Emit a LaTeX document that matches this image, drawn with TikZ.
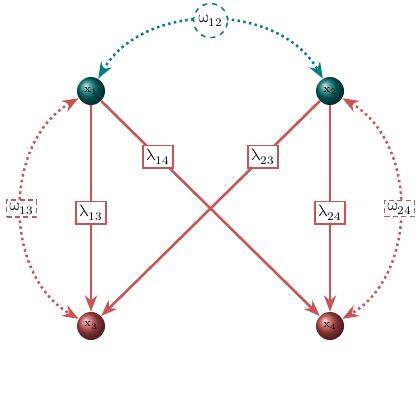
\documentclass[tikz,border=0pt]{standalone}
\usepackage{tikz}
\usepackage{unicode-math}
\usetikzlibrary{arrows.meta,shadings}

\definecolor{lamred}{RGB}{205,82,82}
\definecolor{balltop}{RGB}{0,110,110}
\definecolor{ballbot}{RGB}{185,70,70}
\definecolor{omteal}{RGB}{0,128,128}

\begin{document}
\begin{tikzpicture}[>=Stealth,x=0.6pt,y=-0.6pt]
  \tikzstyle{bola}=[circle,inner sep=0pt,minimum size=16.8pt,font=\scriptsize]
  \tikzstyle{ligacao}=[draw=lamred,line width=1.5pt,->]
  \tikzstyle{lam}=[draw=lamred,fill=white,line width=0.9pt,inner sep=2pt]
  \tikzstyle{elo}=[line width=1.5pt,dotted,<->]
  \tikzstyle{om}=[fill=white,text=black,line width=0.9pt,inner sep=1.5pt]
  \useasboundingbox (0,0) rectangle (420,420);
  \node[bola,ball color=balltop] (x1) at (91,91) {$\mathrm{x}_1$};
  \node[bola,ball color=balltop] (x2) at (330,91) {$\mathrm{x}_2$};
  \node[bola,ball color=ballbot] (x3) at (91,326) {$\mathrm{x}_3$};
  \node[bola,ball color=ballbot] (x4) at (330,326) {$\mathrm{x}_4$};
  \draw[ligacao] (x1) -- node[lam,pos=0.52] {$\uplambda_{13}$} (x3);
  \draw[ligacao] (x1) -- node[lam,pos=0.26] {$\uplambda_{14}$} (x4);
  \draw[ligacao] (x2) -- node[lam,pos=0.26] {$\uplambda_{23}$} (x3);
  \draw[ligacao] (x2) -- node[lam,pos=0.52] {$\uplambda_{24}$} (x4);
  \draw[elo,omteal] (x1) to[bend left=60,looseness=1.02] node[om,circle,dashed,draw=omteal] {$\upomega_{12}$} (x2);
  \draw[elo,lamred] (x1) to[bend right=60,looseness=1.02] node[om,densely dashed,draw=lamred] {$\upomega_{13}$} (x3);
  \draw[elo,lamred] (x2) to[bend left=60,looseness=1.02] node[om,densely dashed,draw=lamred] {$\upomega_{24}$} (x4);
\end{tikzpicture}
\end{document}
